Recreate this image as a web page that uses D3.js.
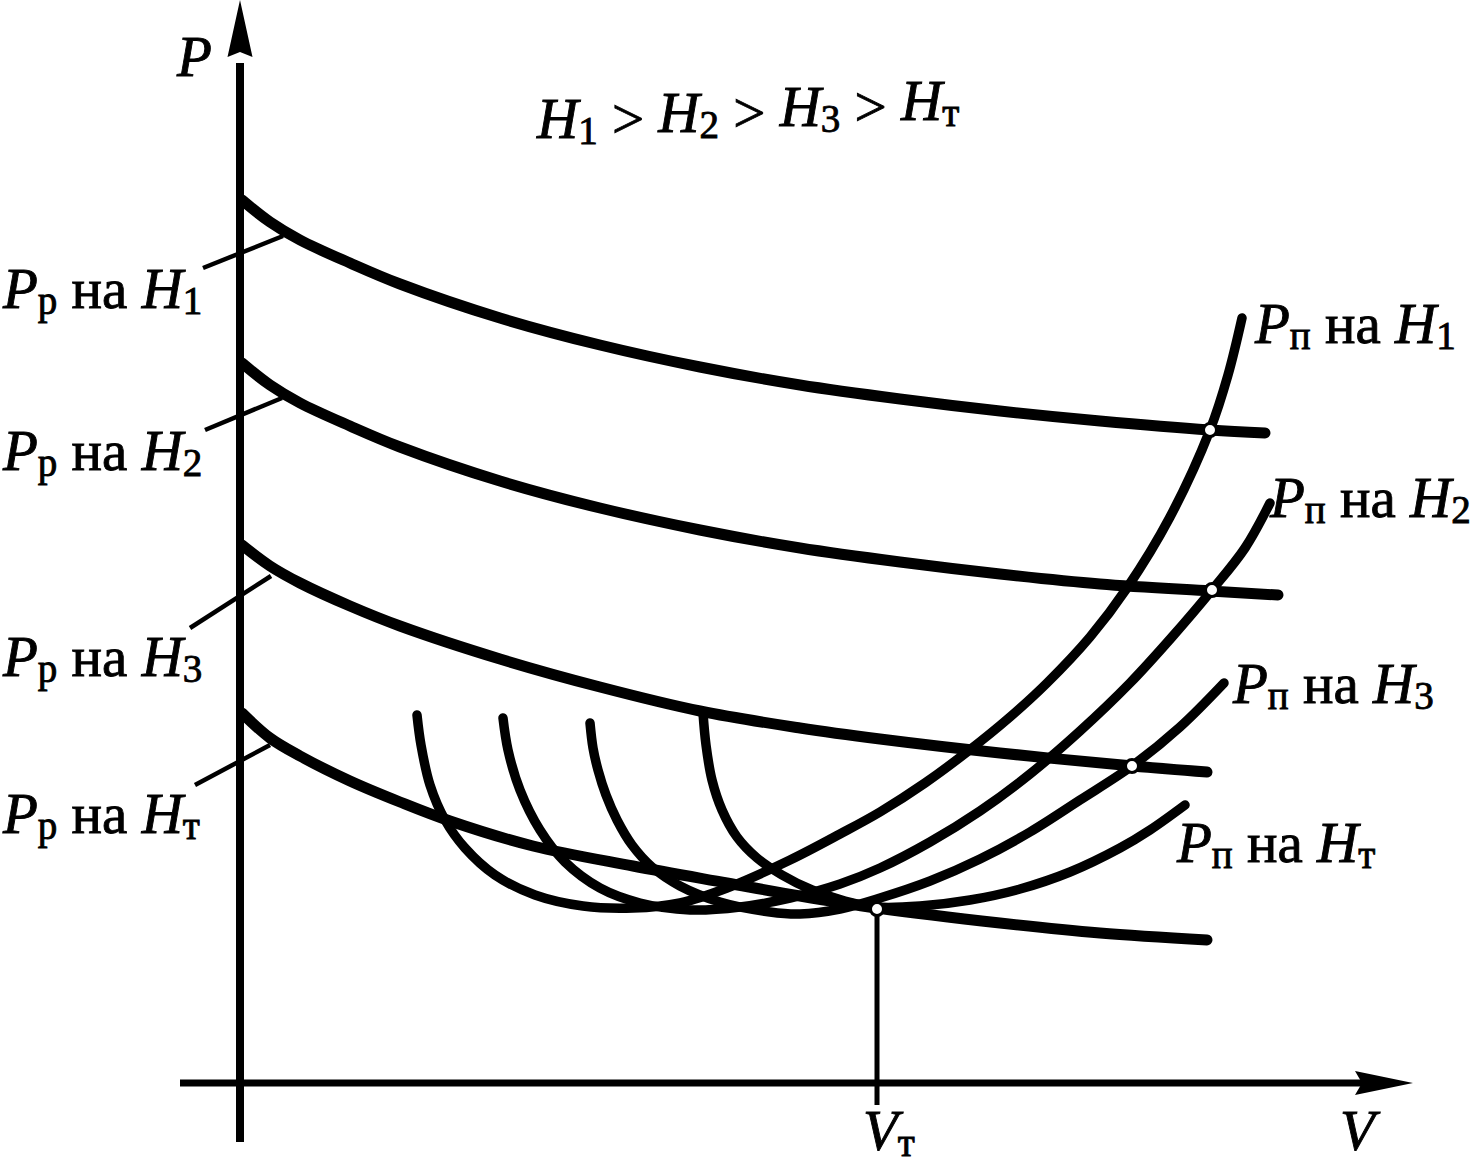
<!DOCTYPE html>
<html>
<head>
<meta charset="utf-8">
<script src="https://cdn.jsdelivr.net/npm/d3@7"></script>
<style>
  body { margin: 0; background: #fff; }
</style>
</head>
<body>
<script>
// curves, units are arbitrary (V, P)
var pR_H1 = [[0.2,88.3],[3,86.1],[6,84.3],[11,82.0],[16,79.9],[26,76.5],[36,73.8],[46,71.6],[56,69.8],[66,68.4],[76,67.2],[86,66.2],[97,65.3],[102.5,65.0]];
var pR_H2 = [[0.2,72.0],[3,69.8],[6,68.0],[11,65.7],[16,63.6],[26,60.2],[36,57.5],[46,55.3],[56,53.5],[66,52.1],[76,50.9],[86,49.9],[97,49.2],[103.8,48.8]];
var pR_H3 = [[0.2,53.8],[3,51.7],[6,50.0],[11,47.7],[16,45.7],[26,42.4],[36,39.6],[46,37.2],[56,35.5],[64,34.4],[76,33.0],[89.3,31.7],[96.7,31.1]];
var pR_HT = [[0.2,37.0],[3,34.5],[6,32.7],[11,30.2],[16,28.1],[21,26.2],[29.3,23.7],[39.3,21.7],[48.7,20.0],[56,18.7],[63.7,17.5],[76,16.0],[86,15.0],[96.7,14.3]];

var pP_H1 = [[17.7,36.8],[18.1,33.8],[19,29.8],[20.5,26.3],[22.5,23.5],[25.5,20.8],[29.5,18.8],[34.3,17.7],[39.3,17.5],[44,18.0],[48.7,19.5],[55,22.3],[60,24.9],[64,27.1],[68.5,30.0],[72.7,33.1],[77,36.6],[80.7,40.0],[85,44.6],[88.7,49.5],[93,56.6],[97,65.3],[98.8,70.8],[100.2,76.5]];
var pP_H2 = [[26.3,36.5],[26.8,33.3],[28,29.3],[30,25.3],[32.5,22.1],[36,19.5],[40,18.0],[45,17.3],[50,17.6],[55,18.5],[60,19.9],[64,21.5],[69,24.1],[74,27.2],[79,30.9],[84,35.2],[89,40.0],[93.2,44.6],[97.2,49.3],[100.5,53.5],[103,58.0]];
var pP_H3 = [[35,36.0],[35.3,33.5],[35.8,31.3],[36.6,28.8],[37.7,26.3],[39.2,23.8],[41.2,21.6],[44,19.7],[48,18.1],[53,17.1],[56,16.9],[60,17.4],[64,18.5],[69,20.2],[74,22.4],[79,25.1],[84,28.3],[89.2,31.7],[94,35.6],[98.4,40.0]];
var pP_HT = [[46.3,37.0],[46.6,33.8],[47.2,30.3],[48.2,27.3],[49.7,24.6],[51.7,22.5],[54.2,20.8],[57.2,19.3],[60.5,18.2],[63.7,17.6],[68,17.7],[73,18.3],[78,19.4],[83,21.1],[88,23.5],[91,25.3],[94.5,27.8]];

// operating points (intersections)
var points = [[97,65.3],[97.2,49.3],[89.2,31.7],[63.7,17.4]];
var vT = 63.7;

// leader lines from left labels to the curves
var leaders = [
  [[-3.7,81.5],[4.3,84.7]],
  [[-3.5,65.3],[4.2,68.5]],
  [[-5.0,45.5],[3.1,50.7]],
  [[-4.5,29.8],[3.0,33.8]]
];

var subs = ["1", "2", "3", "т"];

var width = 1475;
var height = 1163;
var fontFam = "Liberation Serif, Times New Roman, DejaVu Serif, serif";

var x = d3.scaleLinear().domain([0, 116]).range([240, 1400]);
var y = d3.scaleLinear().domain([0, 108.3]).range([1083, 0]);

var svg = d3.select("body").append("svg")
  .attr("width", width)
  .attr("height", height);

svg.append("rect").attr("width", width).attr("height", height).attr("fill", "#fff");

// axes
svg.append("line")
  .attr("x1", x(0)).attr("x2", x(0))
  .attr("y1", y(-5.9)).attr("y2", y(102))
  .attr("stroke", "#000").attr("stroke-width", 8);
svg.append("path")
  .attr("d", "M" + x(0) + "," + y(108.3) + " L" + (x(0) + 12.5) + "," + y(102.6) +
             " L" + x(0) + "," + y(103.1) + " L" + (x(0) - 12.5) + "," + y(102.6) + " Z")
  .attr("fill", "#000");

svg.append("line")
  .attr("x1", x(-6)).attr("x2", x(112.5))
  .attr("y1", y(0)).attr("y2", y(0))
  .attr("stroke", "#000").attr("stroke-width", 7);
svg.append("path")
  .attr("d", "M" + x(117.3) + "," + y(0) + " L" + x(111.5) + "," + (y(0) + 12) +
             " L" + x(112.2) + "," + y(0) + " L" + x(111.5) + "," + (y(0) - 12) + " Z")
  .attr("fill", "#000");

// V_T drop line
svg.append("line")
  .attr("x1", x(vT)).attr("x2", x(vT))
  .attr("y1", y(17.4)).attr("y2", y(-2.2))
  .attr("stroke", "#000").attr("stroke-width", 5);

var line = d3.line()
  .x(function(d) { return x(d[0]); })
  .y(function(d) { return y(d[1]); })
  .curve(d3.curveCatmullRom.alpha(0.5));

// leaders
svg.selectAll(".leader")
  .data(leaders)
  .enter()
  .append("line")
  .attr("class", "leader")
  .attr("x1", function(d) { return x(d[0][0]); })
  .attr("y1", function(d) { return y(d[0][1]); })
  .attr("x2", function(d) { return x(d[1][0]); })
  .attr("y2", function(d) { return y(d[1][1]); })
  .attr("stroke", "#000").attr("stroke-width", 4.5);

// required thrust curves
svg.selectAll(".pp")
  .data([pP_H1, pP_H2, pP_H3, pP_HT])
  .enter()
  .append("path")
  .attr("class", "pp")
  .attr("d", line)
  .attr("fill", "none")
  .attr("stroke", "#000")
  .attr("stroke-width", 9.5)
  .attr("stroke-linecap", "round");

// available thrust curves
svg.selectAll(".pr")
  .data([pR_H1, pR_H2, pR_H3, pR_HT])
  .enter()
  .append("path")
  .attr("class", "pr")
  .attr("d", line)
  .attr("fill", "none")
  .attr("stroke", "#000")
  .attr("stroke-width", 11)
  .attr("stroke-linecap", "round");

svg.selectAll(".pt")
  .data(points)
  .enter()
  .append("circle")
  .attr("cx", function(d) { return x(d[0]); })
  .attr("cy", function(d) { return y(d[1]); })
  .attr("r", 6.5)
  .attr("fill", "#fff")
  .attr("stroke", "#000")
  .attr("stroke-width", 3);

// text helpers
var big = 57, small = 39;

function label(px, py, main, sub, rest, sub2) {
  var t = svg.append("text").attr("x", px).attr("y", py)
    .attr("font-size", big).attr("fill", "#000")
    .attr("stroke", "#000").attr("stroke-width", 0.9)
    .style("font-family", fontFam);
  t.append("tspan").attr("font-style", "italic").text(main);
  if (sub) {
    t.append("tspan").attr("font-size", small).attr("dy", 6).text(sub);
    if (rest) {
      t.append("tspan").attr("dy", -6).text("\u00a0на\u00a0");
      t.append("tspan").attr("font-style", "italic").text("H");
      t.append("tspan").attr("font-size", small).attr("dy", 6).text(sub2);
    }
  }
  return t;
}

label(177, 76, "P");
label(1340, 1150, "V");
label(863, 1150, "V", "т");

// title
var title = svg.append("text").attr("x", 537).attr("y", 138)
  .attr("font-size", big).attr("stroke", "#000").attr("stroke-width", 0.9)
  .style("font-family", fontFam);
subs.forEach(function(s, i) {
  title.append("tspan").attr("font-style", "italic").attr("dy", i === 0 ? 0 : -6).text((i === 0 ? "" : "\u00a0") + "H");
  title.append("tspan").attr("font-size", small).attr("dy", 6).text(s);
  if (i < 3) title.append("tspan").attr("dy", -6).text("\u00a0>");
});

// left labels
var leftBase = [308, 470, 676, 833];
leftBase.forEach(function(b, i) {
  label(3, b, "P", "р", true, subs[i]);
});

// right labels
var rightPos = [[1255, 343], [1270, 517], [1233, 703], [1177, 862]];
rightPos.forEach(function(p, i) {
  label(p[0], p[1], "P", "п", true, subs[i]);
});
</script>
</body>
</html>
